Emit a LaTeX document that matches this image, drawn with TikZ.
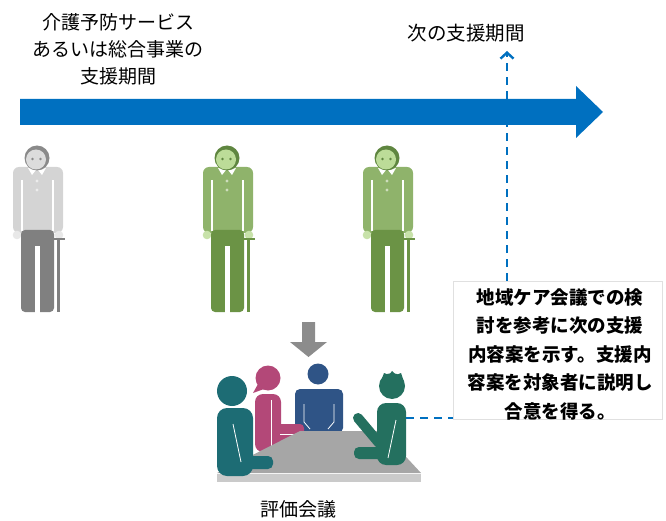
\documentclass[tikz,border=0pt]{standalone}
\usepackage{fontspec}
\setmainfont{Noto Sans CJK JP}
\usetikzlibrary{positioning, arrows.meta}

\definecolor{timeblue}{HTML}{0070C0}
\definecolor{oldshirt}{HTML}{D4D4D4}
\definecolor{oldpants}{HTML}{808080}
\definecolor{oldface}{HTML}{DCDCDC}
\definecolor{oldhair}{HTML}{8A8A8A}
\definecolor{oldhand}{HTML}{E8E8E8}
\definecolor{greenshirt}{HTML}{8FB36B}
\definecolor{greenpants}{HTML}{6B9345}
\definecolor{greenface}{HTML}{BCDC98}
\definecolor{greenhair}{HTML}{5F8640}
\definecolor{greenhand}{HTML}{C8E2AA}
\definecolor{tealleft}{HTML}{1D6C74}
\definecolor{tealright}{HTML}{24705F}
\definecolor{pinkperson}{HTML}{B34878}
\definecolor{blueperson}{HTML}{2F5486}
\definecolor{tablegray}{HTML}{A6A6A6}
\definecolor{tableedge}{HTML}{CACACA}
\definecolor{downgray}{HTML}{8C8C8C}

% standing elderly person with a cane: shirt, pants, face, hair, hands
\tikzset{
  pics/elder/.style n args={5}{code={
    % shirt with arms
    \fill[#1, rounded corners=6] (-24,9) rectangle (26,75);
    \draw[white, line width=1.2] (-15,22) -- (-15,73) (16,22) -- (16,73);
    \fill[white] (-9,10) -- (-1,12) -- (-5,17) -- cycle;
    \fill[white] (9,10) -- (1,12) -- (5,17) -- cycle;
    \fill[white!55!#1] (0,23) circle (1.7) (0,32) circle (1.7);
    % hands
    \fill[#5] (-20,77) circle (4.3) (22,77) circle (4.3);
    % trousers
    \fill[#2, rounded corners=4] (-16,72) rectangle (17,154);
    \fill[white] (-2,88) rectangle (3,155);
    % cane
    \draw[#2, line width=2.8] (21.5,81) -- (21.5,154);
    \draw[#2, line width=2.8] (17,81) -- (28,81);
    % head
    \fill[#4] (0,0) circle (12.5);
    \fill[#3] (-1,1.5) circle (10);
    \fill[#4] (-4.5,1) circle (1.3) (3.5,1) circle (1.3);
  }}
}

\begin{document}
\begin{tikzpicture}[x=1pt, y=-1pt,
  jptext/.style={align=center, font=\fontsize{19}{27}\selectfont},
  notebox/.style={rectangle, draw=black!12, line width=0.6pt, fill=white, minimum width=209pt, minimum height=138pt},
  notetext/.style={align=center, font=\bfseries\fontsize{18.5}{28.5}\selectfont},
  dashlink/.style={draw=timeblue, line width=2.4pt, dash pattern=on 8pt off 6pt, -{Straight Barb[length=6pt, width=13pt]}}]
\useasboundingbox (0,0) rectangle (666,521);

% Time line
\fill[timeblue] (20,99) -- (576,99) -- (576,86) -- (603,112) -- (576,138) -- (576,125) -- (20,125) -- cycle;
\node[jptext] (period) at (118,49) {介護予防サービス\\あるいは総合事業の\\支援期間};
\node[jptext, font=\fontsize{19.5}{27}\selectfont] (nextlbl) at (466,33) {次の支援期間};
\coordinate (nexttip) at (507,51);

% Elderly people
\pic at (37,158) {elder={oldshirt}{oldpants}{oldface}{oldhair}{oldhand}};
\pic at (227,158) {elder={greenshirt}{greenpants}{greenface}{greenhair}{greenhand}};
\pic at (387,158) {elder={greenshirt}{greenpants}{greenface}{greenhair}{greenhand}};

% Down arrow
\fill[downgray] (302,322) -- (315,322) -- (315,342) -- (327,342) -- (308.5,357) -- (290,342) -- (302,342) -- cycle;

% Meeting: back and pink person
\fill[blueperson] (318,374) circle (10.5);
\fill[blueperson, rounded corners=5] (295,389) rectangle (343,433);
\draw[white, line width=0.8] (304,404) -- (304,422) -- (310,429) (334,404) -- (334,422) -- (328,429);
\fill[pinkperson] (268,378) circle (12.5);
\fill[pinkperson] (258,384) -- (253,393) -- (264,389) -- cycle;
\fill[pinkperson, rounded corners=8] (255,394) rectangle (281,452);
\fill[pinkperson, rounded corners=4] (270,424) rectangle (304,445);
\draw[white, line width=0.8] (280,434.5) -- (304,434.5) (271,400) -- (271,446);

% Table
\fill[tablegray] (300,431) -- (382,431) -- (421,473) -- (217,473) -- cycle;
\fill[tableedge] (217,474) rectangle (421,482);

% Meeting: front persons
\fill[tealleft] (232,391) circle (15);
\fill[tealleft, rounded corners=10] (217,408) rectangle (253,476);
\fill[tealleft, rounded corners=5] (240,456) rectangle (273,469);
\draw[white, line width=0.8] (233,424) -- (241,462);
\fill[tealright] (392,386) circle (13);
\fill[tealright] (381,381) -- (384,373) -- (389,375) -- (392,371) -- (396,375) -- (401,373) -- (404,382) -- cycle;
\fill[tealright, rounded corners=9] (377,403) rectangle (406,465);
\draw[tealright, line width=10pt, line cap=round] (358,418) -- (379,443);
\fill[tealright, rounded corners=5] (354,447) rectangle (386,459);
\draw[white, line width=0.8] (396,420) -- (388,458);
\coordinate (speaker) at (406,418);
\node[jptext] (evallbl) at (298,509) {評価会議};

% Link to next period
\draw[dashlink] (speaker) -| (nexttip);

% Note
\node[notebox] (note) at (557.5,350) {};
\node[notetext] at (560,354) {地域ケア会議での検\\討を参考に次の支援\\内容案を示す。支援内\\容案を対象者に説明し\\合意を得る。};

\end{tikzpicture}
\end{document}
